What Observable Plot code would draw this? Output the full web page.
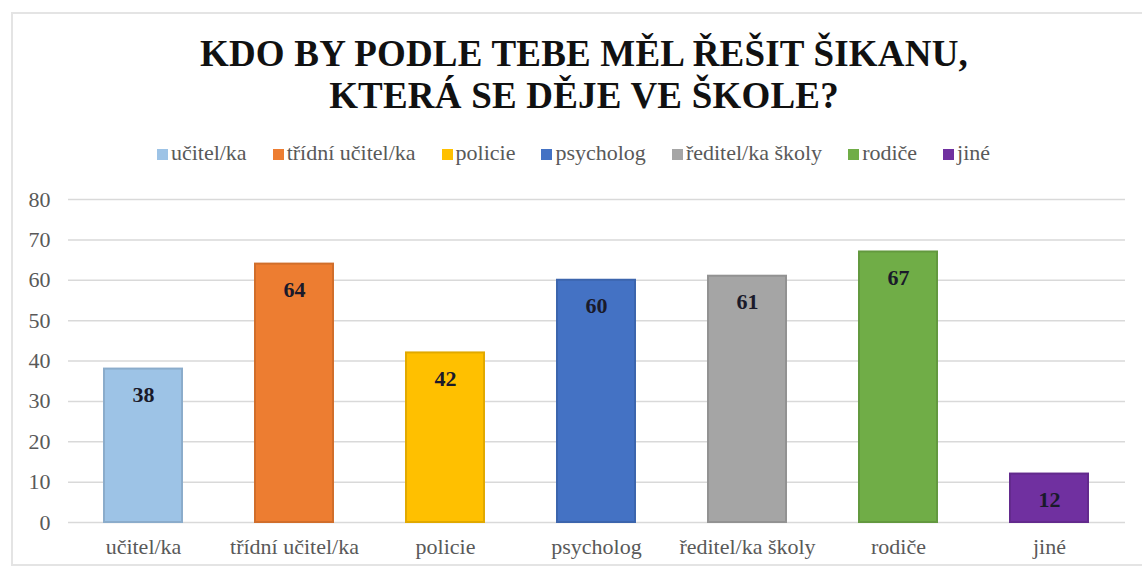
<!DOCTYPE html>
<html>
<head>
<meta charset="utf-8">
<script src="https://cdn.jsdelivr.net/npm/d3@7"></script>
<script src="https://cdn.jsdelivr.net/npm/@observablehq/plot@0.6"></script>
<style>
  html, body { margin: 0; padding: 0; background: #fff; }
  body { width: 1142px; height: 571px; position: relative; overflow: hidden; font-family: "Liberation Serif", "DejaVu Serif", serif; font-weight: 400; }
  .frame { position: absolute; left: 11px; top: 12px; width: 1160px; height: 554px; border: 2px solid #e4e4e4; box-sizing: border-box; }
  .title { position: absolute; left: 26px; top: 33px; width: 1116px; text-align: center; font-weight: bold; font-size: 37px; line-height: 42px; color: #111; letter-spacing: 0.2px; }
  .legend { position: absolute; left: 0; top: 140px; width: 1147px; display: flex; justify-content: center; gap: 26px; font-size: 22px; color: #595959; line-height: 26px; }
  .legend .item { display: flex; align-items: center; }
  .legend .sw { width: 11px; height: 11px; margin-right: 3px; margin-top: 2px; }
  #chart { position: absolute; left: 0; top: 175px; }
</style>
</head>
<body>
<div class="frame"></div>
<div class="title">KDO BY PODLE TEBE MĚL ŘEŠIT ŠIKANU,<br>KTERÁ SE DĚJE VE ŠKOLE?</div>
<div class="legend" id="legend"></div>
<div id="chart"></div>
<script>
const categories = ["učitel/ka", "třídní učitel/ka", "policie", "psycholog", "ředitel/ka školy", "rodiče", "jiné"];
const values = [38, 64, 42, 60, 61, 67, 12];
const colors = ["#9DC3E6", "#ED7D31", "#FFC000", "#4472C4", "#A5A5A5", "#70AD47", "#7030A0"];
const yTicks = [0, 10, 20, 30, 40, 50, 60, 70, 80];

const data = categories.map((c, i) => ({category: c, value: values[i], color: colors[i]}));

// legend
const legend = document.getElementById("legend");
categories.forEach((c, i) => {
  const item = document.createElement("div");
  item.className = "item";
  const sw = document.createElement("span");
  sw.className = "sw";
  sw.style.background = colors[i];
  const label = document.createElement("span");
  label.textContent = c;
  item.appendChild(sw);
  item.appendChild(label);
  legend.appendChild(item);
});

const chart = Plot.plot({
  width: 1142,
  height: 396,
  marginTop: 24,
  marginBottom: 49,
  marginLeft: 68,
  marginRight: 17,
  style: {fontFamily: "'Liberation Serif', 'DejaVu Serif', serif", background: "transparent", color: "#595959"},
  x: {domain: categories, paddingInner: 0.483, paddingOuter: 0.2415, label: null},
  y: {domain: [0, 80], ticks: yTicks, label: null},
  color: {domain: categories, range: colors},
  marks: [
    Plot.gridY(yTicks, {stroke: "#d9d9d9", strokeOpacity: 1, strokeWidth: 1.5}),
    Plot.barY(data, {
      x: "category", y: "value", fill: "category",
      stroke: d => d3.color(d.color).darker(0.35).formatHex(),
      strokeWidth: 2
    }),
    Plot.text(data, {
      x: "category", y: "value", text: d => String(d.value),
      dy: 26, lineAnchor: "middle", fontWeight: "bold", fontSize: 22, fill: "#1a1a2a"
    }),
    Plot.axisY({ticks: yTicks, tickSize: 0, tickPadding: 18, fontSize: 22, fill: "#595959", label: null}),
    Plot.axisX({tickSize: 0, tickPadding: 16, fontSize: 22, fill: "#595959", label: null})
  ]
});
document.getElementById("chart").appendChild(chart);
</script>
</body>
</html>
